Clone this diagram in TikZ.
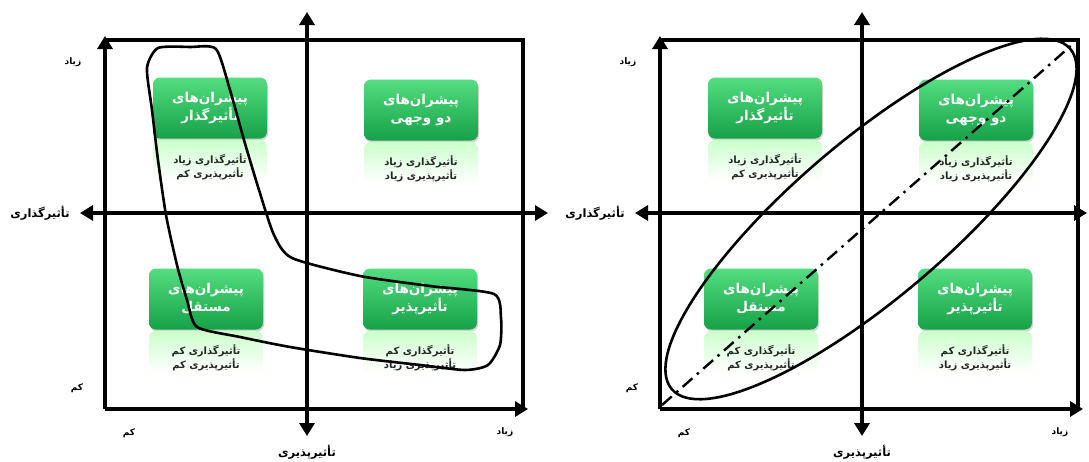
\documentclass[tikz,border=0pt]{standalone}
\usepackage{fontspec}
\newfontfamily\farsi[Script=Arabic]{DejaVu Sans}
\TeXXeTstate=1
\usetikzlibrary{positioning, arrows.meta, shadows}
\definecolor{boxtop}{RGB}{84,222,128}
\definecolor{boxbot}{RGB}{22,160,72}
\newcommand\fa[1]{\beginR #1\endR}

\begin{document}
\begin{tikzpicture}[
    x=1pt, y=-1pt,
    font=\farsi\bfseries,
    frame/.style={line width=3.6pt, line join=miter},
    axis/.style={line width=3.6pt, -{Triangle[length=13pt,width=15pt]}},
    biaxis/.style={line width=3.6pt, {Triangle[length=13pt,width=15pt]}-{Triangle[length=13pt,width=15pt]}},
    driver/.style={rectangle, rounded corners=7pt, top color=boxtop, bottom color=boxbot, minimum width=114pt, minimum height=61pt, text=white, align=center, font=\farsi\bfseries\fontsize{13.5}{18}\selectfont, drop shadow={opacity=0.35, shadow xshift=1pt, shadow yshift=-2pt}},
    mirror/.style={rectangle, rounded corners=7pt, top color=green!20, bottom color=white, minimum width=114pt, minimum height=42pt, inner sep=0pt},
    level/.style={align=center, text=black!85, font=\farsi\bfseries\fontsize{10}{14}\selectfont},
    axislbl/.style={font=\farsi\bfseries\fontsize{11.5}{13}\selectfont},
    ticklbl/.style={font=\farsi\bfseries\fontsize{9}{10}\selectfont},
    outline/.style={line width=2.6pt, line join=round},
    dashdot/.style={line width=2.4pt, dash pattern=on 13pt off 6pt on 2.5pt off 6pt}
]
\useasboundingbox (0,0) rectangle (1089,461);

% two panels, same grid
\foreach \p/\dx/\hx in {a/0/548, b/555/532} {
\begin{scope}[xshift=\dx pt]
    % frame and axes
    \draw[frame] (105,40) -- (523,40) -- (523,409);
    \draw[axis] (105,409) -- (105,36);
    \draw[axis] (105,409) -- (528,409);
    \draw[biaxis] (80,213) -- (\hx,213);
    \draw[biaxis] (307,12) -- (307,436);

    % quadrant boxes
    \node[driver] (\p-tl) at (210,108) {\fa{پیشران‌های}\\\fa{تأثیرگذار}};
    \node[driver] (\p-tr) at (421,110) {\fa{پیشران‌های}\\\fa{دو وجهی}};
    \node[driver] (\p-bl) at (206,299) {\fa{پیشران‌های}\\\fa{مستقل}};
    \node[driver] (\p-br) at (420,299) {\fa{پیشران‌های}\\\fa{تأثیرپذیر}};

    % reflections
    \node[mirror, below=1pt of \p-tl] (\p-tl-m) {};
    \node[mirror, below=1pt of \p-tr] (\p-tr-m) {};
    \node[mirror, below=1pt of \p-bl] (\p-bl-m) {};
    \node[mirror, below=1pt of \p-br] (\p-br-m) {};

    % levels
    \node[level, below=11pt of \p-tl] (\p-tl-l) {\fa{تأثیرگذاری زیاد}\\\fa{تأثیرپذیری کم}};
    \node[level, below=11pt of \p-tr] (\p-tr-l) {\fa{تأثیرگذاری زیاد}\\\fa{تأثیرپذیری زیاد}};
    \node[level, below=11pt of \p-bl] (\p-bl-l) {\fa{تأثیرگذاری کم}\\\fa{تأثیرپذیری کم}};
    \node[level, below=11pt of \p-br] (\p-br-l) {\fa{تأثیرگذاری کم}\\\fa{تأثیرپذیری زیاد}};

    % axis labels
    \node[axislbl] (\p-xlbl) at (40,213) {\fa{تأثیرگذاری}};
    \node[axislbl] (\p-ylbl) at (307,452) {\fa{تأثیرپذیری}};
    \node[ticklbl] (\p-yhi) at (73,62) {\fa{زیاد}};
    \node[ticklbl] (\p-ylo) at (77,388) {\fa{کم}};
    \node[ticklbl] (\p-xlo) at (129,433) {\fa{کم}};
    \node[ticklbl] (\p-xhi) at (505,432) {\fa{زیاد}};
\end{scope}
}

% left: grouped drivers
\draw[outline] plot[smooth cycle, tension=0.4] coordinates {
    (147,68) (158,48) (190,47) (216,49) (230,90) (244,140) (259,190)
    (274,235) (292,258) (360,276) (430,286) (494,294) (501,318) (500,345)
    (488,365) (465,370) (420,365) (360,358) (290,347) (240,337) (197,327)
    (187,300) (177,265) (166,215) (158,160) (152,110)};

% right: diagonal band
\coordinate (ctr) at (871,219);
\coordinate (dd-s) at (662,405);
\coordinate (dd-e) at (1073,44);
\draw[outline, rotate around={40.5:(ctr)}] (ctr) ellipse [x radius=262, y radius=78];
\draw[dashdot] (dd-s) -- (dd-e);

\end{tikzpicture}
\end{document}
